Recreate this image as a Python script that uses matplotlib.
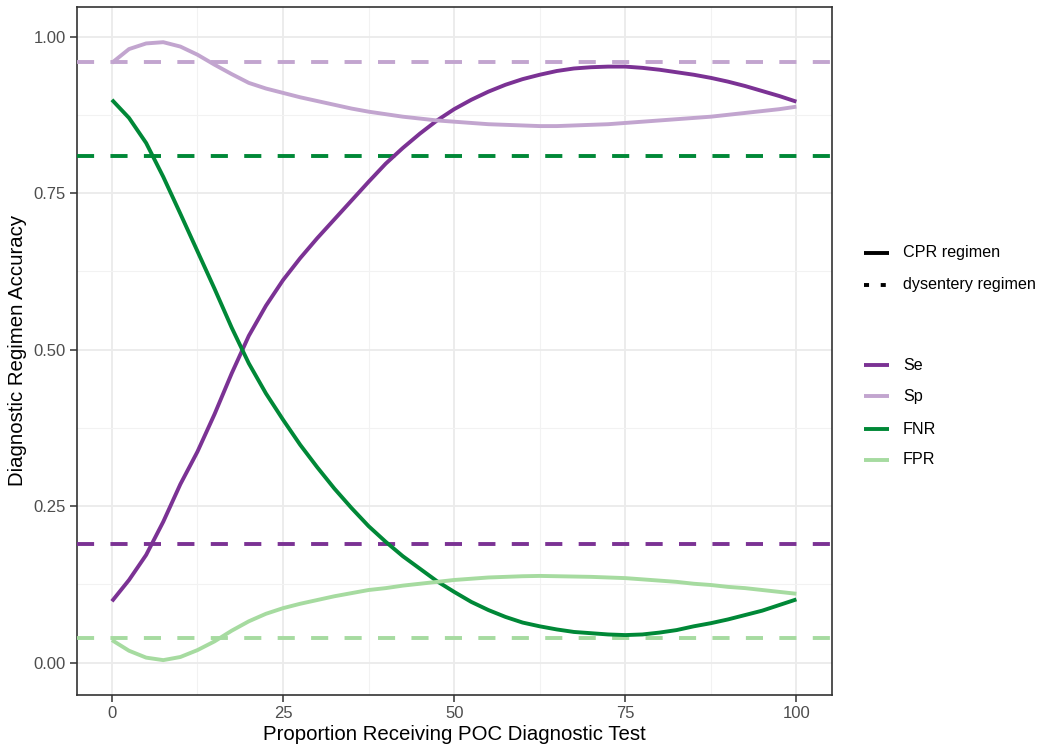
import matplotlib
matplotlib.use("Agg")
import matplotlib.pyplot as plt
from matplotlib.lines import Line2D
from matplotlib.ticker import MultipleLocator, FormatStrFormatter

plt.rcParams['font.family'] = ['Liberation Sans', 'DejaVu Sans']

# ---- data ----
x = [0, 2.5, 5, 7.5, 10, 12.5, 15, 17.5, 20, 22.5, 25, 27.5, 30, 32.5, 35, 37.5,
     40, 42.5, 45, 47.5, 50, 52.5, 55, 57.5, 60, 62.5, 65, 67.5, 70, 72.5, 75,
     77.5, 80, 82.5, 85, 87.5, 90, 92.5, 95, 97.5, 100]
se = [0.098, 0.132, 0.172, 0.225, 0.285, 0.337, 0.397, 0.462, 0.522, 0.570, 0.611,
      0.646, 0.678, 0.708, 0.738, 0.768, 0.797, 0.822, 0.845, 0.866, 0.884,
      0.899, 0.912, 0.923, 0.932, 0.939, 0.945, 0.949, 0.951, 0.952, 0.952,
      0.950, 0.947, 0.943, 0.939, 0.934, 0.928, 0.921, 0.913, 0.905, 0.896]
sp = [0.958, 0.980, 0.989, 0.991, 0.984, 0.971, 0.955, 0.940, 0.926, 0.917, 0.910,
      0.903, 0.897, 0.891, 0.885, 0.880, 0.876, 0.872, 0.869, 0.866, 0.864,
      0.862, 0.860, 0.859, 0.858, 0.857, 0.857, 0.858, 0.859, 0.860, 0.862,
      0.864, 0.866, 0.868, 0.870, 0.872, 0.875, 0.878, 0.881, 0.884, 0.888]
fnr = [0.899, 0.870, 0.830, 0.776, 0.717, 0.657, 0.597, 0.535, 0.478, 0.430, 0.388,
       0.348, 0.312, 0.278, 0.247, 0.218, 0.193, 0.170, 0.150, 0.130, 0.113,
       0.097, 0.084, 0.073, 0.064, 0.058, 0.053, 0.049, 0.047, 0.045, 0.044,
       0.045, 0.048, 0.052, 0.058, 0.063, 0.069, 0.076, 0.083, 0.092, 0.101]
fpr = [0.036, 0.019, 0.008, 0.004, 0.009, 0.020, 0.034, 0.051, 0.066, 0.078, 0.087,
       0.094, 0.100, 0.106, 0.111, 0.116, 0.119, 0.123, 0.126, 0.129, 0.132,
       0.134, 0.136, 0.137, 0.138, 0.1385, 0.138, 0.1375, 0.137, 0.136, 0.135,
       0.133, 0.131, 0.129, 0.126, 0.124, 0.121, 0.119, 0.116, 0.113, 0.110]

series_names = ["Se", "Sp", "FNR", "FPR"]
series_values = [se, sp, fnr, fpr]
dysentery_values = [0.19, 0.96, 0.81, 0.04]
colors = ["#7b3294", "#c2a5cf", "#008837", "#a6dba0"]
regimen_labels = ["CPR regimen", "dysentery regimen"]

x_ticks = [0, 25, 50, 75, 100]
y_ticks = [0.00, 0.25, 0.50, 0.75, 1.00]

# ---- figure ----
W, H = 1037, 746
fig = plt.figure(figsize=(W / 100, H / 100), dpi=100)
ax = fig.add_axes([77 / W, 1 - 695 / H, (832 - 77) / W, (695 - 6.5) / H])

LW = 2.8
dash = (0, (4.4, 4.2))

for name, vals, dv, c in zip(series_names, series_values, dysentery_values, colors):
    ax.axhline(dv, color=c, lw=LW, linestyle=dash, dash_capstyle='butt', zorder=3)
for name, vals, dv, c in zip(series_names, series_values, dysentery_values, colors):
    ax.plot(x, vals, color=c, lw=LW, solid_capstyle='butt', solid_joinstyle='round', zorder=4)

ax.set_xlim(-5.1, 105.2)
ax.set_ylim(-0.0517, 1.048)
ax.set_xticks(x_ticks)
ax.set_yticks(y_ticks)
ax.yaxis.set_major_formatter(FormatStrFormatter('%.2f'))
ax.xaxis.set_minor_locator(MultipleLocator(12.5))
ax.yaxis.set_minor_locator(MultipleLocator(0.125))
ax.grid(which='major', color='#ebebeb', lw=1.3, zorder=0)
ax.grid(which='minor', color='#f2f2f2', lw=0.8, zorder=0)
ax.set_axisbelow(True)
for s in ax.spines.values():
    s.set_color('#333333')
    s.set_linewidth(1.2)
ax.tick_params(which='major', length=5, width=1.1, color='#333333',
               labelsize=12, labelcolor='#4d4d4d', pad=3)
ax.tick_params(which='minor', length=0)

ax.set_xlabel("Proportion Receiving POC Diagnostic Test", fontsize=14.7, color='black', labelpad=3)
ax.set_ylabel("Diagnostic Regimen Accuracy", fontsize=14.7, color='black', labelpad=5)

# ---- legends (manual, pixel positions) ----
def fx(px):
    return px / W

def fy(py):
    return 1 - py / H

key_x0, key_x1, text_x = 864, 889, 903
LFS = 11.6
# linetype legend
fig.add_artist(Line2D([fx(key_x0), fx(key_x1)], [fy(253), fy(253)], transform=fig.transFigure,
                      color='black', lw=LW, solid_capstyle='butt'))
fig.add_artist(Line2D([fx(key_x0), fx(key_x1)], [fy(284.5), fy(284.5)], transform=fig.transFigure,
                      color='black', lw=LW, linestyle=(0, (1.3, 3.0)), dash_capstyle='butt'))
fig.text(fx(text_x), fy(253), regimen_labels[0], fontsize=LFS, va='center', ha='left', color='black')
fig.text(fx(text_x), fy(284.5), regimen_labels[1], fontsize=LFS, va='center', ha='left', color='black')

# colour legend
ys = [365, 396, 429, 459.5]
for name, c, yy in zip(series_names, colors, ys):
    fig.add_artist(Line2D([fx(key_x0), fx(key_x1)], [fy(yy), fy(yy)], transform=fig.transFigure,
                          color=c, lw=LW, solid_capstyle='butt'))
    fig.text(fx(text_x), fy(yy), name, fontsize=LFS, va='center', ha='left', color='black')

fig.savefig("out.png", dpi=100, facecolor='white')
